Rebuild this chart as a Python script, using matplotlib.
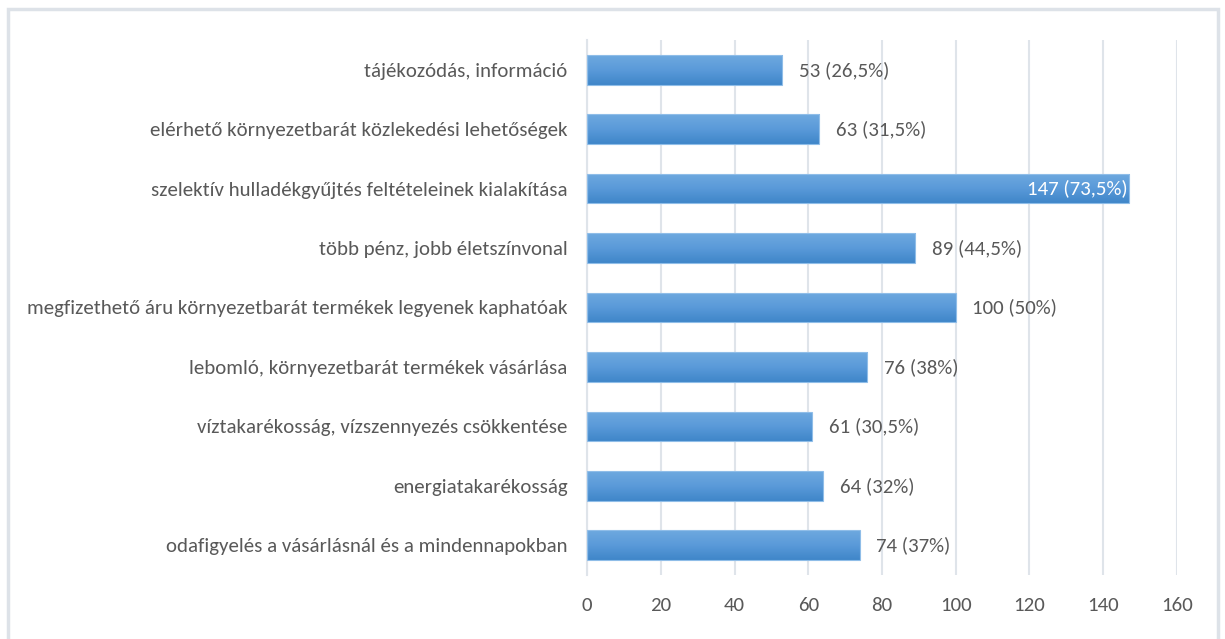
import numpy as np
import matplotlib
matplotlib.use('Agg')
import matplotlib.pyplot as plt
from matplotlib.colors import LinearSegmentedColormap
from matplotlib.patches import Rectangle

categories = [
    'tájékozódás, információ',
    'elérhető környezetbarát közlekedési lehetőségek',
    'szelektív hulladékgyűjtés feltételeinek kialakítása',
    'több pénz, jobb életszínvonal',
    'megfizethető áru környezetbarát termékek legyenek kaphatóak',
    'lebomló, környezetbarát termékek vásárlása',
    'víztakarékosság, vízszennyezés csökkentése',
    'energiatakarékosság',
    'odafigyelés a vásárlásnál és a mindennapokban',
]
values = [53, 63, 147, 89, 100, 76, 61, 64, 74]
percents = ['26,5%', '31,5%', '73,5%', '44,5%', '50%', '38%', '30,5%', '32%', '37%']
xticks = [0, 20, 40, 60, 80, 100, 120, 140, 160]

font = ['Carlito', 'Asap Condensed', 'DejaVu Sans']
txt_color = '#595959'
fs = 15

fig = plt.figure(figsize=(12.25, 6.39), dpi=100)
ax = fig.add_axes([0.4792, 0.1002, 0.4816, 0.8372])

# Rahmen um das ganze Diagramm
fig.patches.append(Rectangle((8 / 1225, -0.05), 1210 / 1225, 1 - 9 / 639 + 0.05,
                             transform=fig.transFigure, fill=False,
                             edgecolor='#dde2e8', linewidth=2.5))

y = np.arange(len(values))
bars = ax.barh(y, values, height=0.5, color='none', edgecolor='#8fbde8',
               linewidth=0.8, zorder=3)

# Farbverlauf in den Balken
cmap = LinearSegmentedColormap.from_list('blue', ['#3f86c9', '#5a9ad9', '#6ea9df'])
grad = np.linspace(0, 1, 100).reshape(-1, 1)
for b in bars:
    x0, y0, w, h = b.get_x(), b.get_y(), b.get_width(), b.get_height()
    im = ax.imshow(grad, extent=[x0, x0 + w, y0, y0 + h], aspect='auto',
                   cmap=cmap, origin='upper', zorder=2)
    im.set_clip_path(b)

for i, (v, p) in enumerate(zip(values, percents)):
    label = f'{v} ({p})'
    if v > 140:
        ax.text(v - 0.5, i, label, va='center', ha='right', color='white',
                fontsize=fs, family=font, zorder=4)
    else:
        ax.text(v + 4.5, i, label, va='center', ha='left', color=txt_color,
                fontsize=fs, family=font, zorder=4)

ax.set_xlim(0, 160)
ax.set_ylim(len(values) - 0.5, -0.5)
ax.set_xticks(xticks)
ax.set_yticks(y)
ax.set_yticklabels(categories, family=font, fontsize=fs, color=txt_color)
ax.set_xticklabels([str(t) for t in xticks], family=font, fontsize=fs, color=txt_color)
ax.tick_params(axis='both', length=0)
ax.tick_params(axis='y', pad=14)
ax.tick_params(axis='x', pad=16)
ax.grid(axis='x', color='#dfe4ea', linewidth=1.5, zorder=0)
ax.set_axisbelow(True)
for s in ['top', 'right', 'bottom']:
    ax.spines[s].set_visible(False)
ax.spines['left'].set_color('#dfe4ea')
ax.spines['left'].set_linewidth(1.5)

plt.savefig('out.png', dpi=100)
